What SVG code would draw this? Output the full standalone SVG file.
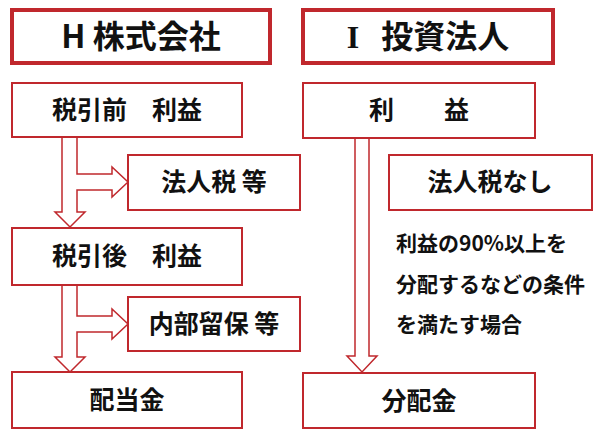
<svg xmlns="http://www.w3.org/2000/svg" width="600" height="438" viewBox="0 0 600 438">
<style>
.b{fill:#fff;stroke:#c0282d;stroke-width:2}
.t{fill:#fff;stroke:#c0282d;stroke-width:4}
.a{fill:#fff;stroke:#c0282d;stroke-width:1.5}
text{font-family:"Noto Sans CJK JP","Liberation Sans",sans-serif;font-weight:bold;fill:#111;text-anchor:middle}
.l{font-size:25px}.h{font-size:32px}.s{font-size:21px;text-anchor:start}
</style>
<rect width="600" height="438" fill="#fff"/>
<g id="connectors">
<path class="a" d="M62,137 V212 H55 L70,227 L85,212 H77 V190 H112 V197 L128,182 L112,167 V174 H77 V137 Z"/>
<path class="a" d="M62,285 V357 H55 L70,372 L85,357 H77 V332 H112 V339 L128,324 L112,309 V316 H77 V285 Z"/>
<path class="a" d="M355,138 V356 H347 L362,372 L377,356 H369 V138 Z"/>
</g>
<g id="h-title"><rect class="t" x="12" y="10" width="258" height="53"/><text class="h" x="141" y="48">H 株式会社</text></g>
<g id="i-title"><rect class="t" x="303" y="10" width="250" height="53"/><text class="h" x="428" y="48"><tspan font-family="Liberation Serif,serif">I</tspan><tspan dx="22">投資法人</tspan></text></g>
<g id="h1"><rect class="b" x="12" y="83" width="230" height="54"/><text class="l" x="127" y="119">税引前　利益</text></g>
<g id="h2"><rect class="b" x="128" y="155" width="172" height="55"/><text class="l" x="214" y="191">法人税 等</text></g>
<g id="h3"><rect class="b" x="12" y="228" width="230" height="57"/><text class="l" x="127" y="265">税引後　利益</text></g>
<g id="h4"><rect class="b" x="128" y="297" width="172" height="54"/><text class="l" x="214" y="333">内部留保 等</text></g>
<g id="h5"><rect class="b" x="12" y="372" width="230" height="56"/><text class="l" x="127" y="409">配当金</text></g>
<g id="i1"><rect class="b" x="303" y="83" width="232" height="55"/><text class="l" x="419" y="119">利　　益</text></g>
<g id="i2"><rect class="b" x="389" y="155" width="203" height="55"/><text class="l" x="490" y="191">法人税なし</text></g>
<g id="note"><text class="s" x="396" y="251">利益の90%以上を</text><text class="s" x="396" y="292">分配するなどの条件</text><text class="s" x="396" y="332">を満たす場合</text></g>
<g id="i3"><rect class="b" x="303" y="373" width="232" height="55"/><text class="l" x="419" y="410">分配金</text></g>
</svg>
